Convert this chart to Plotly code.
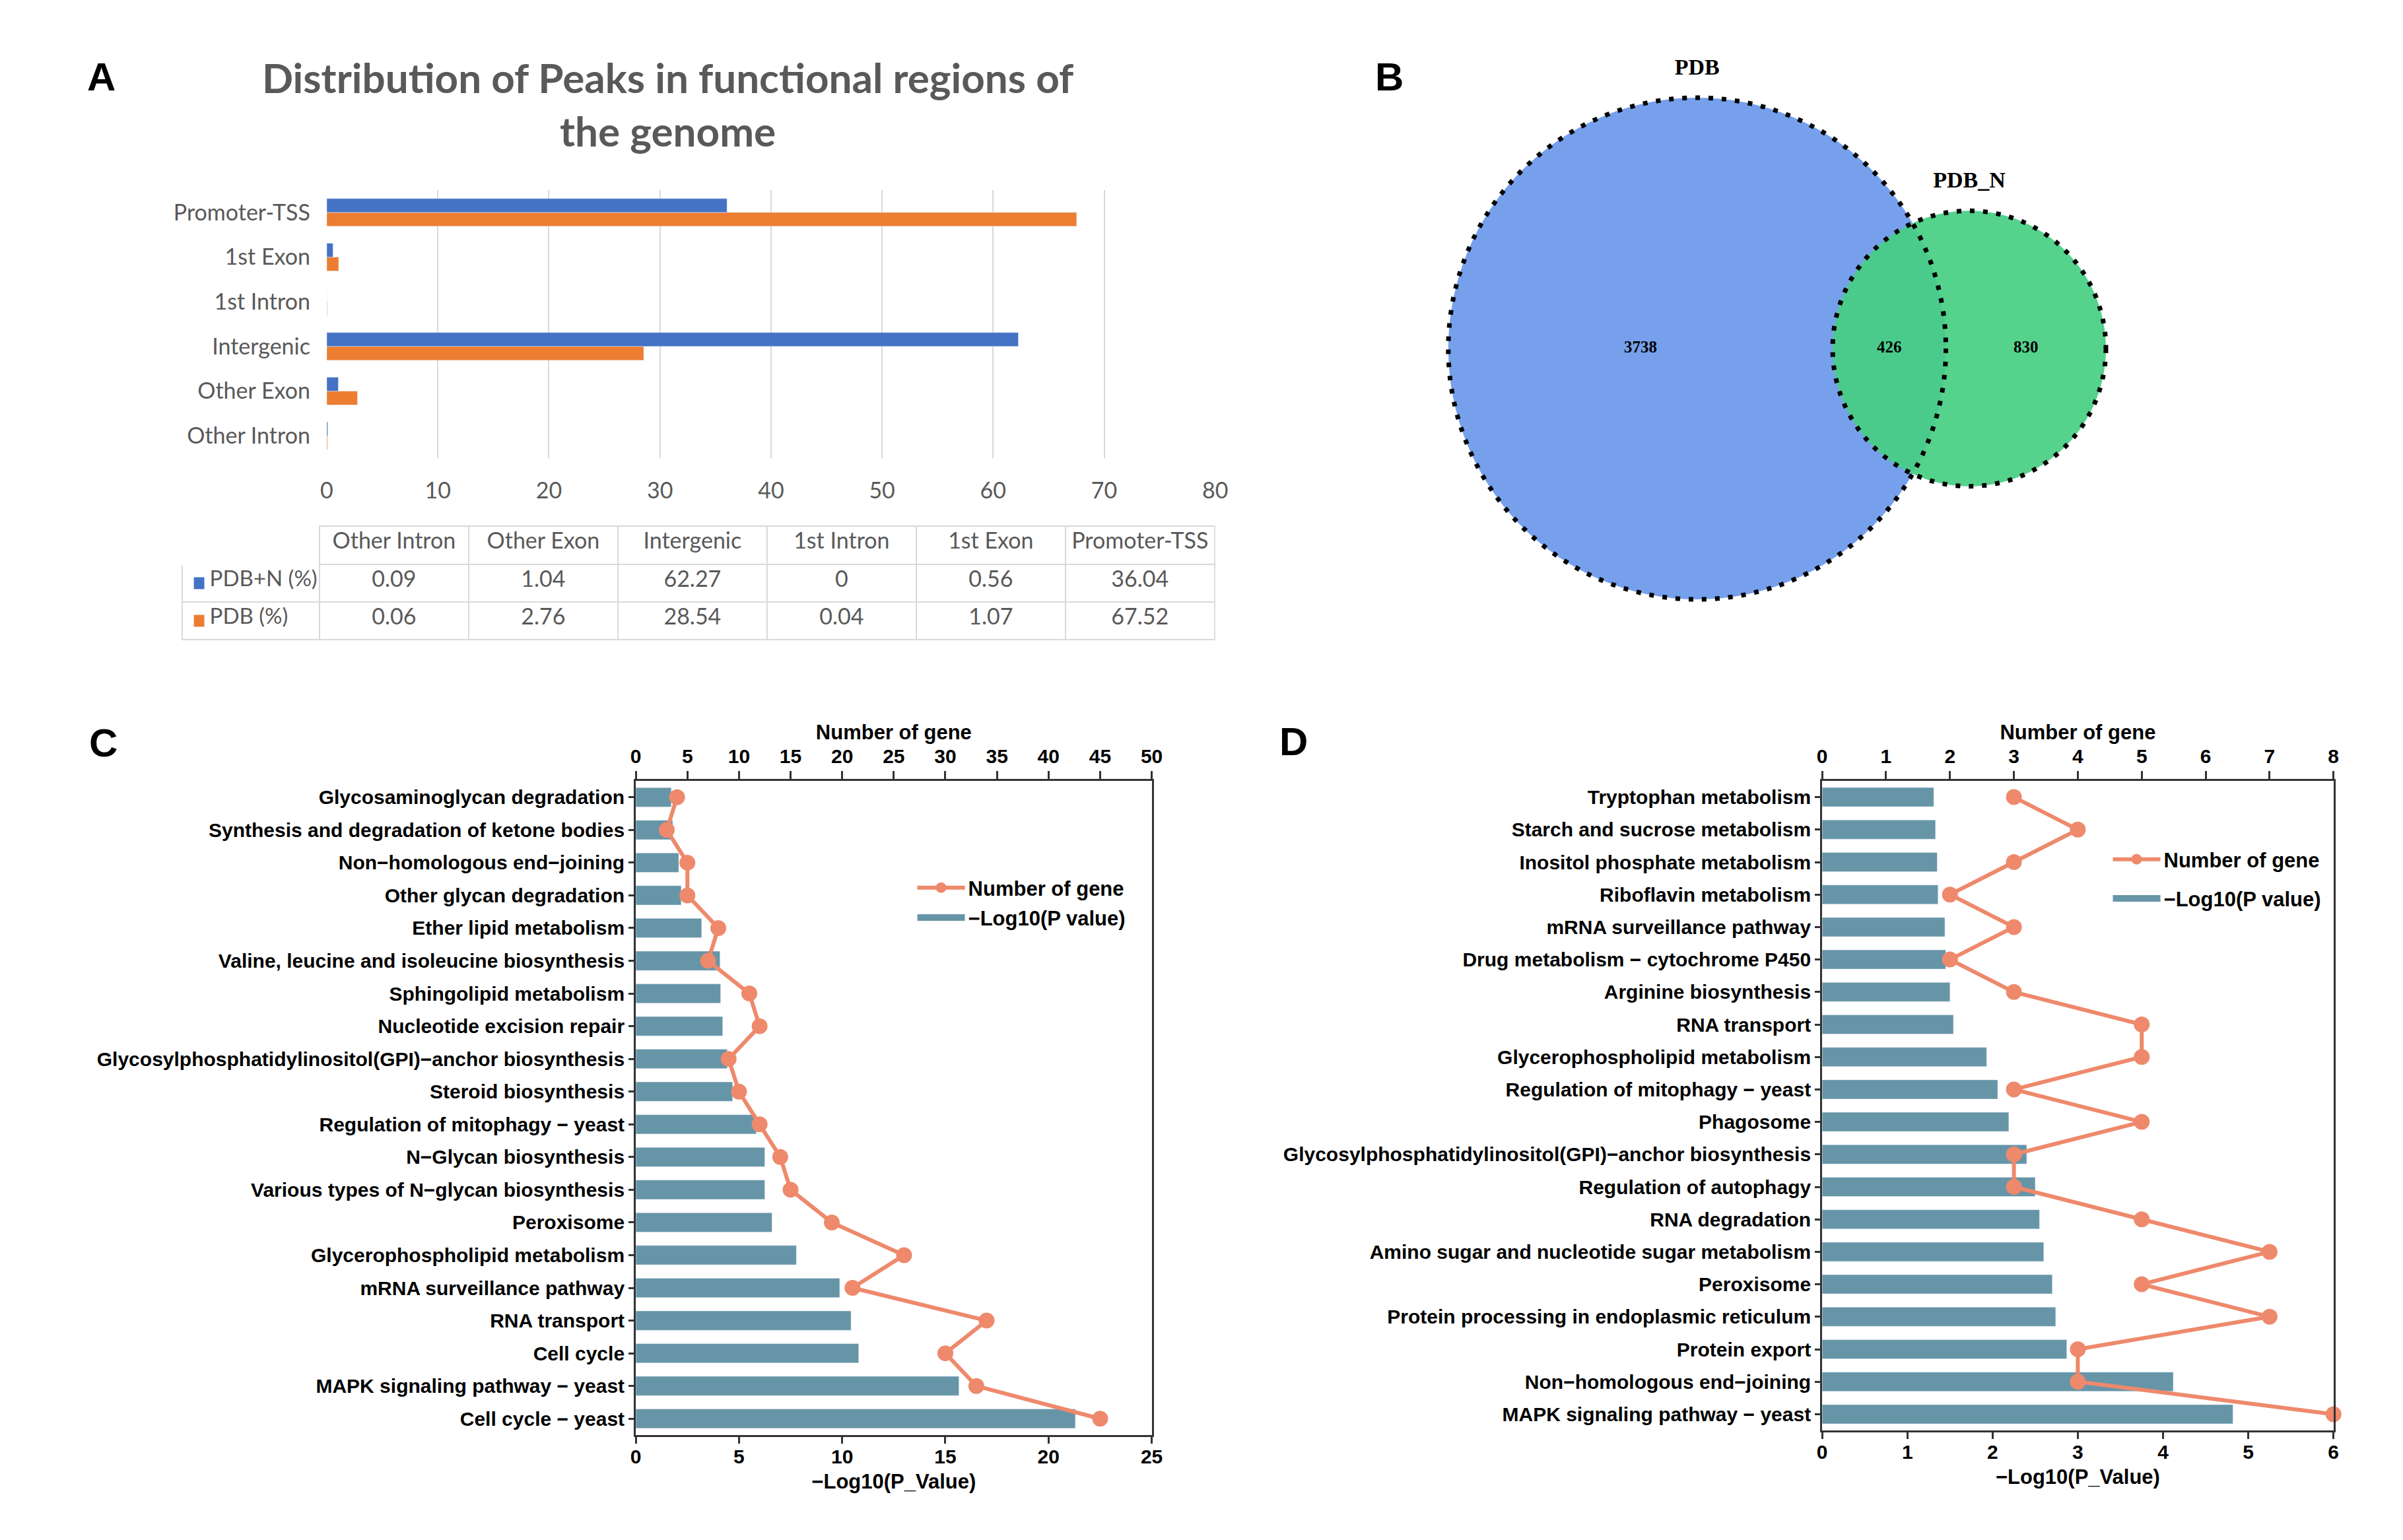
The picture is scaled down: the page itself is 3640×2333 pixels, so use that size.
import math
import plotly.graph_objects as go

W, H = 3640, 2333


def px(x):
    return x / W


def py(y):
    return 1 - y / H


# ---------------- Panel A data ----------------
regions = ["Other Intron", "Other Exon", "Intergenic", "1st Intron", "1st Exon", "Promoter-TSS"]
pdb_n_pct = [0.09, 1.04, 62.27, 0, 0.56, 36.04]
pdb_pct = [0.06, 2.76, 28.54, 0.04, 1.07, 67.52]
series_a = ["PDB+N (%)", "PDB (%)"]
title_a = "Distribution of Peaks in functional regions of<br>the genome"

# ---------------- Panel B data ----------------
venn_only_pdb = 3738
venn_overlap = 426
venn_only_pdbn = 830
venn_names = ["PDB", "PDB_N"]

# ---------------- Panel C data ----------------
c_terms = [
    "Glycosaminoglycan degradation",
    "Synthesis and degradation of ketone bodies",
    "Non\u2212homologous end\u2212joining",
    "Other glycan degradation",
    "Ether lipid metabolism",
    "Valine, leucine and isoleucine biosynthesis",
    "Sphingolipid metabolism",
    "Nucleotide excision repair",
    "Glycosylphosphatidylinositol(GPI)\u2212anchor biosynthesis",
    "Steroid biosynthesis",
    "Regulation of mitophagy \u2212 yeast",
    "N\u2212Glycan biosynthesis",
    "Various types of N\u2212glycan biosynthesis",
    "Peroxisome",
    "Glycerophospholipid metabolism",
    "mRNA surveillance pathway",
    "RNA transport",
    "Cell cycle",
    "MAPK signaling pathway \u2212 yeast",
    "Cell cycle \u2212 yeast",
]
c_logp = [1.72, 1.79, 2.08, 2.2, 3.19, 4.08, 4.11, 4.21, 4.43, 4.69,
          5.84, 6.25, 6.25, 6.6, 7.78, 9.88, 10.43, 10.8, 15.66, 21.3]
c_genes = [4, 3, 5, 5, 8, 7, 11, 12, 9, 10,
           12, 14, 15, 19, 26, 21, 34, 30, 33, 45]

# ---------------- Panel D data ----------------
d_terms = [
    "Tryptophan metabolism",
    "Starch and sucrose metabolism",
    "Inositol phosphate metabolism",
    "Riboflavin metabolism",
    "mRNA surveillance pathway",
    "Drug metabolism \u2212 cytochrome P450",
    "Arginine biosynthesis",
    "RNA transport",
    "Glycerophospholipid metabolism",
    "Regulation of mitophagy \u2212 yeast",
    "Phagosome",
    "Glycosylphosphatidylinositol(GPI)\u2212anchor biosynthesis",
    "Regulation of autophagy",
    "RNA degradation",
    "Amino sugar and nucleotide sugar metabolism",
    "Peroxisome",
    "Protein processing in endoplasmic reticulum",
    "Protein export",
    "Non\u2212homologous end\u2212joining",
    "MAPK signaling pathway \u2212 yeast",
]
d_logp = [1.31, 1.33, 1.35, 1.36, 1.44, 1.45, 1.50, 1.54, 1.93, 2.06,
          2.19, 2.40, 2.50, 2.55, 2.60, 2.70, 2.74, 2.87, 4.12, 4.82]
d_genes = [3, 4, 3, 2, 3, 2, 3, 5, 5, 3,
           5, 3, 3, 5, 7, 5, 7, 4, 4, 8]

legend_line_name = "Number of gene"
legend_bar_name = "\u2212Log10(P value)"

# ---------------- styles ----------------
BLUE_A = "#4472C4"
ORANGE_A = "#ED7D31"
GREY_TXT = "#595959"
GRID = "#D9D9D9"
BAR_CD = "#6795A8"
LINE_CD = "#EE896C"
AX = "#333333"
FONT_A = "Lato, Carlito, Calibri, sans-serif"
FONT_CD = "Liberation Sans, Arial, sans-serif"
FONT_SERIF = "Liberation Serif, Times New Roman, serif"
NB = "\u00a0"

fig = go.Figure()

# ================= Panel A: bars =================
fig.add_trace(go.Bar(
    orientation="h", x=pdb_pct, y=regions, name=series_a[1],
    marker=dict(color=ORANGE_A), width=0.31, offset=-0.31,
    xaxis="x", yaxis="y", showlegend=False))
fig.add_trace(go.Bar(
    orientation="h", x=pdb_n_pct, y=regions, name=series_a[0],
    marker=dict(color=BLUE_A), width=0.31, offset=0.0,
    xaxis="x", yaxis="y", showlegend=False))


def fmt(v):
    return f"{v:g}"


# table (data table under panel A)
tab_x0, tab_x1, tab_top = 268, 1846, 797
head_h, row_h = 58, 57
# non-breaking spaces keep each row label on one line; leading ones leave room for the key
row_labels = [NB * 4 + name.replace(" ", NB) for name in series_a]
cell_cols = [row_labels] + [[fmt(n), fmt(p)] for n, p in zip(pdb_n_pct, pdb_pct)]
fig.add_trace(go.Table(
    domain=dict(x=[px(tab_x0), px(tab_x1)], y=[py(tab_top + head_h + 2 * row_h + 40), py(tab_top)]),
    columnwidth=[210] + [228] * len(regions),
    header=dict(values=[""] + regions, height=head_h, fill_color="white",
                line=dict(color=["white"] + [GRID] * len(regions), width=2),
                font=dict(family=FONT_A, size=34, color=GREY_TXT), align="center"),
    cells=dict(values=cell_cols, height=row_h, fill_color="white",
               line=dict(color=GRID, width=2),
               font=dict(family=FONT_A, size=[33] + [34] * len(regions), color=GREY_TXT),
               align=["left"] + ["center"] * len(regions)),
))

# ================= Panel B: Venn =================
n1 = venn_only_pdb + venn_overlap
n2 = venn_only_pdbn + venn_overlap
r1 = math.sqrt(n1 / math.pi)
r2 = math.sqrt(n2 / math.pi)


def lens_area(d):
    a1 = r1 ** 2 * math.acos((d * d + r1 * r1 - r2 * r2) / (2 * d * r1))
    a2 = r2 ** 2 * math.acos((d * d + r2 * r2 - r1 * r1) / (2 * d * r2))
    a3 = 0.5 * math.sqrt(max(0.0, (-d + r1 + r2) * (d + r1 - r2) * (d - r1 + r2) * (d + r1 + r2)))
    return a1 + a2 - a3


lo, hi = abs(r1 - r2) + 1e-9, r1 + r2 - 1e-9
for _ in range(200):
    mid = (lo + hi) / 2
    if lens_area(mid) > venn_overlap:
        lo = mid
    else:
        hi = mid
dist = (lo + hi) / 2

# layout of the venn axes (pixels)
vx0, vx1, vy0, vy1 = 2080, 3400, 40, 1000
cx_px, cy_px, r1_px = 2582, 528, 380
s = r1_px / r1  # px per unit
venn_xrange = [(vx0 - cx_px) / s, (vx1 - cx_px) / s]
venn_yrange = [-(vy1 - cy_px) / s, (cy_px - vy0) / s]

shapes = []
shapes.append(dict(type="circle", xref="x6", yref="y4", x0=-r1, x1=r1, y0=-r1, y1=r1,
                   fillcolor="#76A0EC", line=dict(width=0), layer="below"))
shapes.append(dict(type="circle", xref="x6", yref="y4", x0=dist - r2, x1=dist + r2, y0=-r2, y1=r2,
                   fillcolor="rgba(72,207,131,0.93)", line=dict(width=0), layer="below"))
for (c0, rr) in [(0.0, r1), (dist, r2)]:
    shapes.append(dict(type="circle", xref="x6", yref="y4", x0=c0 - rr, x1=c0 + rr, y0=-rr, y1=rr,
                       fillcolor="rgba(0,0,0,0)", line=dict(width=7, color="black", dash="7px,13px"),
                       layer="above"))

# legend keys of the data table (small coloured squares inside the row-label cells)
for i, col in enumerate([BLUE_A, ORANGE_A]):
    yc = tab_top + head_h + row_h * (i + 0.5)
    shapes.append(dict(type="rect", xref="paper", yref="paper",
                       x0=px(tab_x0 + 18), x1=px(tab_x0 + 34), y0=py(yc + 9), y1=py(yc - 9),
                       fillcolor=col, line=dict(width=0), layer="above"))

fig.add_trace(go.Scatter(
    x=[(-r1 + dist - r2) / 2, (dist - r2 + r1) / 2, (r1 + dist + r2) / 2],
    y=[0, 0, 0], mode="text",
    text=[str(venn_only_pdb), str(venn_overlap), str(venn_only_pdbn)],
    textfont=dict(family=FONT_SERIF, size=25, color="black", weight="bold"),
    xaxis="x6", yaxis="y4", showlegend=False, hoverinfo="skip"))
fig.add_trace(go.Scatter(
    x=[0, dist], y=[r1 + 4.2, r2 + 4.2], mode="text",
    text=venn_names,
    textfont=dict(family=FONT_SERIF, size=34, color="black", weight="bold"),
    xaxis="x6", yaxis="y4", showlegend=False, hoverinfo="skip"))

# ================= Panel C =================
fig.add_trace(go.Scatter(
    x=c_genes, y=c_terms, mode="lines+markers", name=legend_line_name,
    line=dict(color=LINE_CD, width=6), marker=dict(color=LINE_CD, size=24),
    xaxis="x3", yaxis="y2", legend="legend", legendgroup="cline"))
fig.add_trace(go.Bar(
    orientation="h", x=c_logp, y=c_terms, name=legend_bar_name,
    marker=dict(color=BAR_CD), width=0.59,
    xaxis="x2", yaxis="y2", showlegend=False, legendgroup="cbar"))
# legend entry for the bars (wide patch like the original)
fig.add_trace(go.Scatter(
    x=[None], y=[None], mode="lines", name=legend_bar_name,
    line=dict(color=BAR_CD, width=19), xaxis="x2", yaxis="y2",
    legend="legend", legendgroup="cbar", hoverinfo="skip"))

# ================= Panel D =================
fig.add_trace(go.Scatter(
    x=d_genes, y=d_terms, mode="lines+markers", name=legend_line_name,
    line=dict(color=LINE_CD, width=6), marker=dict(color=LINE_CD, size=24),
    xaxis="x5", yaxis="y3", legend="legend2", legendgroup="dline",
    cliponaxis=False))
fig.add_trace(go.Bar(
    orientation="h", x=d_logp, y=d_terms, name=legend_bar_name,
    marker=dict(color=BAR_CD), width=0.59,
    xaxis="x4", yaxis="y3", showlegend=False, legendgroup="dbar"))
fig.add_trace(go.Scatter(
    x=[None], y=[None], mode="lines", name=legend_bar_name,
    line=dict(color=BAR_CD, width=19), xaxis="x4", yaxis="y3",
    legend="legend2", legendgroup="dbar", hoverinfo="skip"))

tick_cd = dict(family=FONT_CD, size=30, color="black", weight="bold")
title_cd = dict(family=FONT_CD, size=31, color="black", weight="bold")

axis_common = dict(showline=True, linecolor=AX, linewidth=3, ticks="outside",
                   tickwidth=3, tickcolor=AX, showgrid=False, zeroline=False, tickfont=tick_cd)

label_font = dict(family=FONT_CD, size=60, color="black", weight="bold")

layout = dict(
    width=W, height=H,
    margin=dict(l=0, r=0, t=0, b=0),
    paper_bgcolor="white", plot_bgcolor="white",
    barmode="overlay",
    showlegend=True,
    shapes=shapes,
    # Panel A axes
    xaxis=dict(domain=[px(489), px(1846)], range=[0, 80], dtick=10, showgrid=True,
               gridcolor=GRID, gridwidth=2, zeroline=False, showline=False, ticks="",
               tickfont=dict(family=FONT_A, size=34, color=GREY_TXT), ticklabelstandoff=26,
               anchor="y"),
    yaxis=dict(domain=[py(694), py(288)], categoryorder="array", categoryarray=regions,
               range=[-0.5, len(regions) - 0.5], showgrid=False, zeroline=False, showline=False,
               ticks="", tickfont=dict(family=FONT_A, size=34, color=GREY_TXT),
               ticklabelstandoff=24, anchor="x"),
    # Panel C axes
    xaxis2=dict(domain=[px(961), px(1749)], range=[0, 25], dtick=5, anchor="y2",
                ticklen=10, ticklabelstandoff=-6,
                title=dict(text="\u2212Log10(P_Value)", font=title_cd, standoff=12), **axis_common),
    xaxis3=dict(domain=[px(961), px(1749)], range=[0, 50], dtick=5, anchor="y2",
                overlaying="x2", side="top", ticklen=12,
                title=dict(text="Number of gene", font=title_cd, standoff=0), **axis_common),
    yaxis2=dict(domain=[py(2174), py(1183)], categoryorder="array", categoryarray=c_terms,
                range=[len(c_terms) - 0.5, -0.5], anchor="x2", mirror=True, showline=True,
                linecolor=AX, linewidth=3, ticks="outside", ticklen=8, tickwidth=3,
                tickcolor=AX, showgrid=False, zeroline=False, tickfont=tick_cd),
    # Panel D axes
    xaxis4=dict(domain=[px(2773), px(3554)], range=[0, 6], dtick=1, anchor="y3",
                ticklen=10, ticklabelstandoff=-6,
                title=dict(text="\u2212Log10(P_Value)", font=title_cd, standoff=12), **axis_common),
    xaxis5=dict(domain=[px(2773), px(3554)], range=[0, 8], dtick=1, anchor="y3",
                overlaying="x4", side="top", ticklen=12,
                title=dict(text="Number of gene", font=title_cd, standoff=0), **axis_common),
    yaxis3=dict(domain=[py(2167), py(1183)], categoryorder="array", categoryarray=d_terms,
                range=[len(d_terms) - 0.5, -0.5], anchor="x4", mirror=True, showline=True,
                linecolor=AX, linewidth=3, ticks="outside", ticklen=8, tickwidth=3,
                tickcolor=AX, showgrid=False, zeroline=False, tickfont=tick_cd),
    # Venn axes
    xaxis6=dict(domain=[px(vx0), px(vx1)], range=venn_xrange, visible=False, anchor="y4"),
    yaxis4=dict(domain=[py(vy1), py(vy0)], range=venn_yrange, visible=False, anchor="x6"),
    legend=dict(x=px(1386), y=py(1318), xanchor="left", yanchor="top",
                bgcolor="rgba(0,0,0,0)", font=title_cd, itemwidth=72,
                tracegroupgap=2, traceorder="grouped"),
    legend2=dict(x=px(3212), y=py(1275), xanchor="left", yanchor="top",
                 bgcolor="rgba(0,0,0,0)", font=title_cd, itemwidth=72,
                 tracegroupgap=16, traceorder="grouped"),
    annotations=[
        dict(text="A", x=px(145), y=py(117), xref="paper", yref="paper", showarrow=False,
             xanchor="center", yanchor="middle", font=label_font),
        dict(text="B", x=px(2112), y=py(117), xref="paper", yref="paper", showarrow=False,
             xanchor="center", yanchor="middle", font=label_font),
        dict(text="C", x=px(148), y=py(1125), xref="paper", yref="paper", showarrow=False,
             xanchor="center", yanchor="middle", font=label_font),
        dict(text="D", x=px(1966), y=py(1123), xref="paper", yref="paper", showarrow=False,
             xanchor="center", yanchor="middle", font=label_font),
        dict(text=title_a, x=px(1010), y=py(158), xref="paper", yref="paper", showarrow=False,
             xanchor="center", yanchor="middle",
             font=dict(family=FONT_A, size=62, color=GREY_TXT, weight="bold"), align="center"),
    ],
)
fig.update_layout(**layout)

fig.write_html("out.html", config={"displayModeBar": False},
               post_script="document.body.style.margin='0px';")
